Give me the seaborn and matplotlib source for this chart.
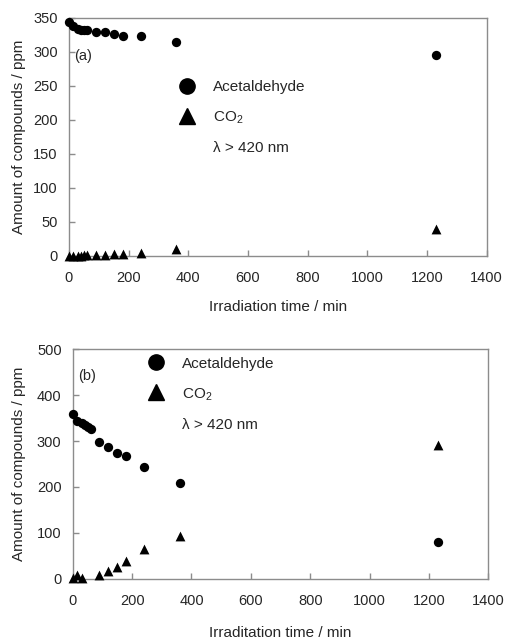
import numpy as np
import matplotlib
matplotlib.use("Agg")
import matplotlib.pyplot as plt
import seaborn as sns
from matplotlib.lines import Line2D

# panel (a)
time_a = [0, 15, 30, 40, 50, 60, 90, 120, 150, 180, 240, 360, 1230]
acet_a = [344, 338, 334, 333, 332, 332, 330, 329, 327, 324, 323, 315, 295]
co2_a = [0, 0, 0.5, 0.5, 1, 1, 1.5, 2, 2.5, 3, 5, 10, 39]

# panel (b)
time_b = [0, 15, 30, 40, 50, 60, 90, 120, 150, 180, 240, 360, 1230]
acet_b = [360, 344, 340, 336, 331, 326, 297, 288, 274, 267, 243, 208, 81]
time_b_co2 = [0, 15, 30, 90, 120, 150, 180, 240, 360, 1230]
co2_b = [1, 8, 2, 9, 17, 26, 39, 65, 94, 291]

sns.set_style("ticks")
plt.rcParams['font.family'] = ['Liberation Sans', 'DejaVu Sans']
plt.rcParams['font.size'] = 10.5
plt.rcParams['mathtext.fontset'] = 'custom'
plt.rcParams['mathtext.rm'] = 'Liberation Sans'

fig = plt.figure(figsize=(5.07, 6.39), dpi=100)
ax1 = fig.add_axes([0.136, 0.5994, 0.824, 0.3725])
ax2 = fig.add_axes([0.1434, 0.0944, 0.82, 0.359])

grey = '#8c8c8c'


def style_axis(ax, ymax, ystep, xlabel):
	ax.set_xlim(0, 1400)
	ax.set_ylim(0, ymax)
	ax.set_xticks(np.arange(0, 1401, 200))
	ax.set_yticks(np.arange(0, ymax + 1, ystep))
	ax.tick_params(direction='in', length=4, color=grey, width=1, labelsize=10.5,
		bottom=True, left=True, top=False, right=False)
	ax.tick_params(axis='x', pad=11)
	ax.tick_params(axis='y', pad=8)
	for sp in ax.spines.values():
		sp.set_visible(True)
		sp.set_color(grey)
		sp.set_linewidth(1)
	ax.set_xlabel(xlabel, fontsize=11)
	ax.set_ylabel('Amount of compounds / ppm', fontsize=11)


sns.scatterplot(x=time_a, y=acet_a, ax=ax1, marker='o', color='black', s=45, edgecolor='black', linewidth=0, clip_on=False, zorder=3)
sns.scatterplot(x=time_a, y=co2_a, ax=ax1, marker='^', color='black', s=50, edgecolor='black', linewidth=0, clip_on=False, zorder=3)
sns.scatterplot(x=time_b, y=acet_b, ax=ax2, marker='o', color='black', s=45, edgecolor='black', linewidth=0, clip_on=False, zorder=3)
sns.scatterplot(x=time_b_co2, y=co2_b, ax=ax2, marker='^', color='black', s=50, edgecolor='black', linewidth=0, clip_on=False, zorder=3)

style_axis(ax1, 350, 50, 'Irradiation time / min')
style_axis(ax2, 500, 100, 'Irraditation time / min')
ax1.xaxis.set_label_coords(0.5, -0.187)
ax2.xaxis.set_label_coords(0.5, -0.205)
ax1.yaxis.set_label_coords(-0.122 + 0.02, 0.5)
ax2.yaxis.set_label_coords(-0.132 + 0.02, 0.5)

ax1.text(0.012, 0.84, '(a)', transform=ax1.transAxes, fontsize=10.5, va='center')
ax2.text(0.013, 0.885, '(b)', transform=ax2.transAxes, fontsize=10.5, va='center')

handles = [Line2D([], [], marker='o', color='black', linestyle='none', markersize=11),
	Line2D([], [], marker='^', color='black', linestyle='none', markersize=12),
	Line2D([], [], linestyle='none')]
labels = ['Acetaldehyde', 'CO$_2$', '\u03bb > 420 nm']
for ax, anchor in [(ax1, (0.245, 0.765)), (ax2, (0.163, 0.995))]:
	ax.legend(handles, labels, loc='upper left', bbox_to_anchor=anchor, frameon=False,
		fontsize=11, handletextpad=1.1, labelspacing=1.0, handlelength=1.2, borderaxespad=0)

fig.savefig('out.png', dpi=100)
